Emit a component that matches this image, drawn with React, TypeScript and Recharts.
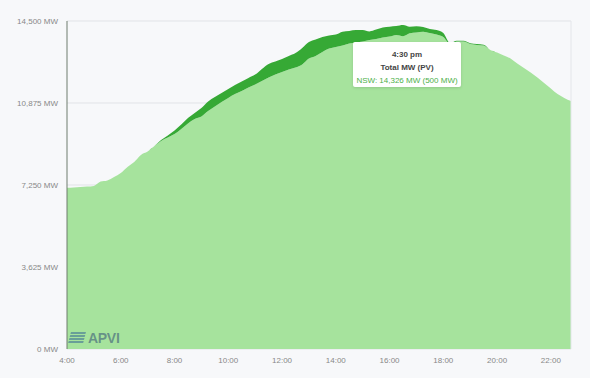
import React from "react";
import { AreaChart, Area, XAxis, YAxis, CartesianGrid, Tooltip, ReferenceLine } from "recharts";

const times = [
  "4:00", "4:15", "4:30", "4:45", "5:00", "5:15", "5:30", "5:45",
  "6:00", "6:15", "6:30", "6:45", "7:00", "7:15", "7:30", "7:45",
  "8:00", "8:15", "8:30", "8:45", "9:00", "9:15", "9:30", "9:45",
  "10:00", "10:15", "10:30", "10:45", "11:00", "11:15", "11:30", "11:45",
  "12:00", "12:15", "12:30", "12:45", "13:00", "13:15", "13:30", "13:45",
  "14:00", "14:15", "14:30", "14:45", "15:00", "15:15", "15:30", "15:45",
  "16:00", "16:15", "16:30", "16:45", "17:00", "17:15", "17:30", "17:45",
  "18:00", "18:15", "18:30", "18:45", "19:00", "19:15", "19:30", "19:45",
  "20:00", "20:15", "20:30", "20:45", "21:00", "21:15", "21:30", "21:45",
  "22:00", "22:15", "22:30", "22:45",
];

// NSW total MW without the PV band
const baseMW = [
  7130, 7140, 7160, 7180, 7210, 7400, 7450, 7600,
  7780, 8050, 8270, 8580, 8730, 8970, 9200, 9350,
  9500, 9730, 9970, 10170, 10280, 10520, 10720, 10920,
  11100, 11270, 11410, 11560, 11690, 11850, 12000, 12130,
  12250, 12360, 12440, 12580, 12840, 12950, 13130, 13280,
  13350, 13420, 13510, 13550, 13590, 13660, 13700, 13770,
  13810, 13880, 13826, 13960, 13990, 14030, 13970, 13900,
  13790, 13480, 13590, 13590, 13480, 13440, 13420, 13220,
  13110, 12980, 12840, 12620, 12420, 12220, 12000, 11760,
  11520, 11270, 11100, 10960,
];

// PV contribution on top
const pvMW = [
  0, 0, 0, 0, 0, 0, 0, 0,
  0, 0, 0, 0, 0, 0, 40, 90,
  160, 190, 240, 260, 370, 420, 420, 400,
  390, 400, 420, 420, 440, 530, 600, 580,
  570, 590, 640, 730, 730, 730, 660, 580,
  550, 610, 550, 550, 510, 380, 420, 440,
  440, 400, 500, 290, 280, 200, 180, 200,
  180, 50, 40, 40, 40, 40, 30, 0,
  0, 0, 0, 0, 0, 0, 0, 0,
  0, 0, 0, 0,
];

const xTicks = ["4:00", "6:00", "8:00", "10:00", "12:00", "14:00", "16:00", "18:00", "20:00", "22:00"];
const yTicks = [0, 3625, 7250, 10875, 14500];

const data = times.map((time, i) => ({ time, base: baseMW[i], pv: pvMW[i] }));

const fontFamily = '"Liberation Sans", Arial, sans-serif';

function to12h(label: string) {
  const [h, m] = label.split(":").map(Number);
  const suffix = h >= 12 ? "pm" : "am";
  const hh = h % 12 === 0 ? 12 : h % 12;
  return `${hh}:${String(m).padStart(2, "0")} ${suffix}`;
}

function YTick({ x, y, payload }: any) {
  return (
    <text x={x} y={y} dy={3} textAnchor="end" fill="#888" fontSize={8} fontFamily={fontFamily}>
      {`${Number(payload.value).toLocaleString("en-US")} MW`}
    </text>
  );
}

function TipBox({ active, payload, label }: any) {
  if (!active || !payload || !payload.length) return null;
  const row = payload[0].payload;
  const total = row.base + row.pv;
  return (
    <div
      style={{
        background: "#fff",
        width: 108,
        height: 45,
        boxSizing: "border-box",
        paddingTop: 6,
        textAlign: "center",
        fontFamily,
        fontSize: 8,
        lineHeight: "13px",
        boxShadow: "0 1px 3px rgba(0,0,0,0.12)",
        borderRadius: 2,
      }}
    >
      <div style={{ color: "#444", fontWeight: 600 }}>{to12h(label)}</div>
      <div style={{ color: "#444", fontWeight: 600 }}>Total MW (PV)</div>
      <div style={{ color: "#4cb04a" }}>
        NSW: {total.toLocaleString("en-US")} MW ({row.pv} MW)
      </div>
    </div>
  );
}

export default function App() {
  return (
    <div style={{ position: "absolute", left: 0, top: 0, width: 590, height: 378, background: "#f7f8fa" }}>
      <AreaChart
        width={590}
        height={378}
        data={data}
        margin={{ top: 21, right: 19, left: 0, bottom: 0 }}
      >
        <CartesianGrid vertical={false} stroke="#e1e3e7" />
        <XAxis
          dataKey="time"
          ticks={xTicks}
          interval={0}
          height={29}
          axisLine={false}
          tickLine={false}
          tickSize={0}
          tickMargin={8}
          tick={{ fill: "#888", fontSize: 8, fontFamily }}
        />
        <YAxis
          domain={[0, 14500]}
          ticks={yTicks}
          width={67}
          tickLine={false}
          tickSize={0}
          tickMargin={9}
          axisLine={{ stroke: "#6f7d6f" }}
          tick={<YTick />}
        />
        <ReferenceLine x="22:45" stroke="#e4e6ea" />
        <Area
          type="monotone"
          dataKey="base"
          stackId="nsw"
          stroke="none"
          fill="#a6e39d"
          fillOpacity={1}
          activeDot={false}
          isAnimationActive={false}
        />
        <Area
          type="monotone"
          dataKey="pv"
          stackId="nsw"
          stroke="none"
          fill="#36a935"
          fillOpacity={1}
          activeDot={false}
          isAnimationActive={false}
        />
        <Tooltip
          content={<TipBox />}
          defaultIndex={50}
          cursor={false}
          position={{ x: 353, y: 42 }}
          isAnimationActive={false}
          wrapperStyle={{ outline: "none" }}
        />
      </AreaChart>
      <div
        style={{
          position: "absolute",
          left: 68,
          top: 330,
          display: "flex",
          alignItems: "center",
          gap: 2,
          fontFamily,
          pointerEvents: "none",
        }}
      >
        <svg width={18} height={12}>
          {[0, 3, 6, 9].map((y) => (
            <polygon key={y} points={`${3 - y / 4},${y} ${18 - y / 4},${y} ${17.4 - y / 4},${y + 2} ${2.4 - y / 4},${y + 2}`} fill="rgba(80,130,150,0.7)" />
          ))}
        </svg>
        <span style={{ fontSize: 14, fontWeight: 700, color: "rgba(75,110,125,0.7)", letterSpacing: -0.3 }}>APVI</span>
      </div>
    </div>
  );
}
